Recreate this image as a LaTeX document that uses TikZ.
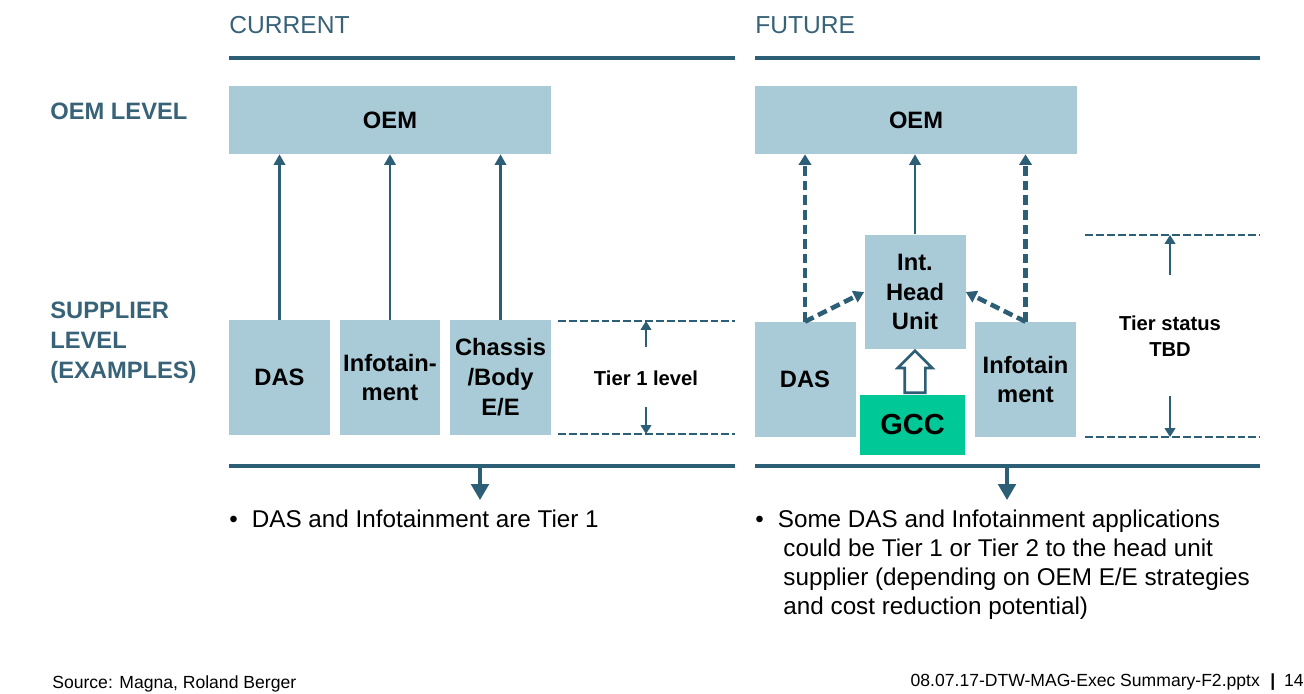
\documentclass[tikz,border=0pt]{standalone}
\usepackage{fontspec}
\setmainfont{Liberation Sans}
\usepackage{tikz}
\usetikzlibrary{arrows.meta,shapes.arrows,positioning}

\definecolor{boxblue}{RGB}{169,203,216}
\definecolor{linkblue}{RGB}{44,94,118}
\definecolor{headblue}{RGB}{56,98,120}
\definecolor{gccgreen}{RGB}{0,200,150}

\begin{document}
\begin{tikzpicture}
                    [x=0.02cm, y=-0.02cm, every node/.style={inner sep=0pt},
                     box/.style={fill=boxblue, align=center, minimum width=2.02cm, minimum height=2.3cm,
                                 font=\fontsize{13.5}{17}\selectfont\bfseries},
                     oembox/.style={box, minimum width=6.44cm, minimum height=1.36cm},
                     rowlabel/.style={anchor=west, align=left, text=headblue,
                                      font=\fontsize{13.5}{17}\selectfont\bfseries},
                     heading/.style={anchor=west, text=headblue, font=\fontsize{14}{17}\selectfont},
                     bar/.style={draw=linkblue, line width=2.6pt},
                     tierline/.style={draw=linkblue, line width=1.1pt, dash pattern=on 4.5pt off 1.7pt},
                     tiertext/.style={align=center, font=\fontsize{11.5}{15}\selectfont\bfseries},
                     bullet/.style={anchor=north west, align=left, font=\fontsize{13.8}{16.5}\selectfont}]
                    \tikzset{edge/.style = {draw=linkblue, line width=1.3pt, > = {Triangle[length=6pt,width=6.5pt]}},
                             dashedge/.style = {edge, line width=2.6pt, dash pattern=on 5.5pt off 2.8pt,
                                                > = {Triangle[length=6pt,width=7pt]}},
                             tieredge/.style = {draw=linkblue, line width=0.9pt,
                                                > = {Triangle[length=5pt,width=6pt]}}}
                    \useasboundingbox (0,0) rectangle (1304,693);

                    % headings and row labels
                    \node[heading] (cur) at (229,25)  {CURRENT};
                    \node[heading] (fut) at (755,25)  {FUTURE};
                    \node[rowlabel] (lvoem) at (50,111) {OEM LEVEL};
                    \node[rowlabel] (lvsup) at (50,343) {SUPPLIER\\LEVEL\\(EXAMPLES)};
                    \draw[bar] (229,58) -- (735,58);
                    \draw[bar] (755,58) -- (1260,58);

                    % current structure
                    \node[oembox] (oem1)  at (390,120)     {OEM};
                    \node[box]    (das1)  at (279.5,377.5) {DAS};
                    \node[box]    (info1) at (390,377.5)   {Infotain-\\ment};
                    \node[box]    (chas1) at (500.5,377.5) {Chassis\\/Body\\E/E};
                    \foreach \from in {das1,info1,chas1}
                        \draw[edge,->] (\from.north) -- (\from.north |- oem1.south);

                    \coordinate (t1a) at (558,321);
                    \coordinate (t1b) at (558,434);
                    \draw[tierline] (t1a) -- ++(177,0);
                    \draw[tierline] (t1b) -- ++(177,0);
                    \node[tiertext] (tier1) at (646,378) {Tier 1 level};
                    \draw[tieredge,->] (646,347) -- (646,321);
                    \draw[tieredge,->] (646,407) -- (646,434);

                    % future structure
                    \node[oembox] (oem2)  at (916,120)     {OEM};
                    \node[box]    (das2)  at (805,379.5)   {DAS};
                    \node[box]    (hu)    at (915,292)     {Int.\\Head\\Unit};
                    \node[box]    (info2) at (1025.5,379.5) {Infotain\\ment};
                    \node[fill=gccgreen, minimum width=2.1cm, minimum height=1.2cm,
                          font=\fontsize{16.5}{18}\selectfont\bfseries] (gcc) at (912.5,425) {GCC};
                    \node[single arrow, draw=linkblue, line width=1.5pt, fill=white, rotate=90, inner sep=0.18cm,
                          minimum height=0.84cm, minimum width=0.66cm, single arrow head extend=0.14cm,
                          single arrow head indent=0pt, anchor=tail] (gccup) at (915,394) {};

                    \draw[edge,->] (hu.north) -- (hu.north |- oem2.south);
                    \foreach \from in {das2,info2}
                        \draw[dashedge,->] (\from.north) -- (\from.north |- oem2.south);
                    \draw[dashedge,->] (das2.north) -- (hu.west);
                    \draw[dashedge,->] (info2.north) -- (hu.east);

                    \coordinate (t2a) at (1085,235);
                    \coordinate (t2b) at (1085,437);
                    \draw[tierline] (t2a) -- ++(175,0);
                    \draw[tierline] (t2b) -- ++(175,0);
                    \node[tiertext] (tier2) at (1170,336) {Tier status\\TBD};
                    \draw[tieredge,->] (1170,275) -- (1170,235);
                    \draw[tieredge,->] (1170,396) -- (1170,437);

                    % conclusions
                    \draw[bar] (229,466) -- (735,466);
                    \draw[bar] (755,466) -- (1260,466);
                    \coordinate (res1) at (480,466);
                    \coordinate (res2) at (1007,466);
                    \node[bullet] (note1) at (229,510) {\textbullet\hspace{8pt}DAS and Infotainment are Tier 1};
                    \node[bullet] (note2) at (755,510) {\textbullet\hspace{8pt}Some DAS and Infotainment applications\\
                        \hspace{16pt}could be Tier 1 or Tier 2 to the head unit\\
                        \hspace{16pt}supplier (depending on OEM E/E strategies\\
                        \hspace{16pt}and cost reduction potential)};
                    \foreach \from in {res1,res2}
                        \draw[edge, line width=1.8pt, -{Triangle[length=9pt,width=10pt]}] (\from) -- ++(0,34);

                    % footer
                    \node[anchor=west, font=\fontsize{10}{12}\selectfont] (src) at (52,684) {Source: Magna, Roland Berger};
                    \node[anchor=east, font=\fontsize{10}{12}\selectfont] (file) at (1304,682)
                        {08.07.17-DTW-MAG-Exec Summary-F2.pptx\hspace{6pt}\textbf{|}\hspace{5pt}14};
                \end{tikzpicture}
\end{document}
